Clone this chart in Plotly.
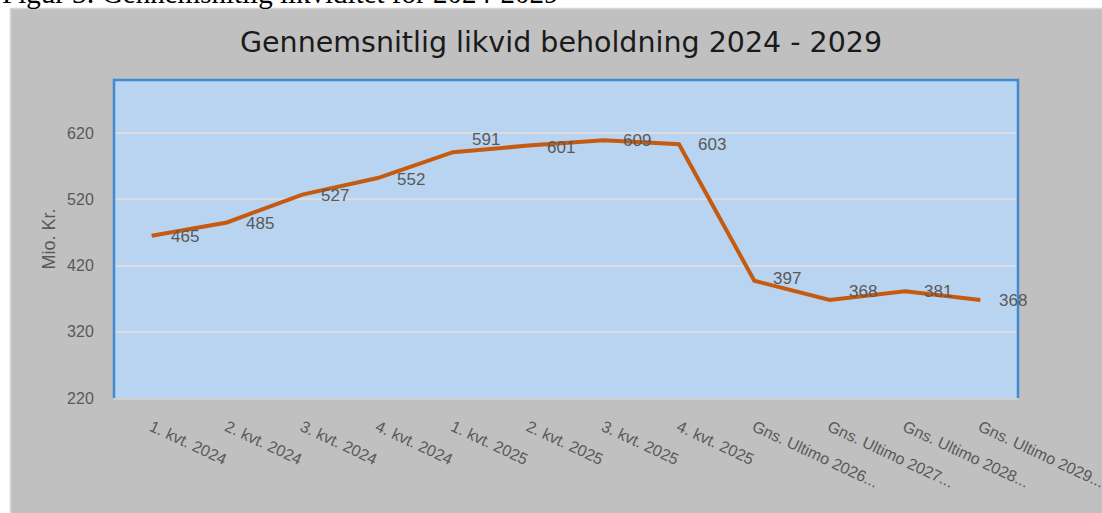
import plotly.graph_objects as go

categories = ["1. kvt. 2024", "2. kvt. 2024", "3. kvt. 2024", "4. kvt. 2024",
              "1. kvt. 2025", "2. kvt. 2025", "3. kvt. 2025", "4. kvt. 2025",
              "Gns. Ultimo 2026...", "Gns. Ultimo 2027...", "Gns. Ultimo 2028...",
              "Gns. Ultimo 2029..."]
values = [465, 485, 527, 552, 591, 601, 609, 603, 397, 368, 381, 368]
y_ticks = [220, 320, 420, 520, 620]
label_yshift = [-1, -1, -1, -1, 13, -2, 0, 0, 2, 8, 0, -1]

W, H = 1102, 513
L, R, T, B = 114, 84, 80, 115
pw, ph = W - L - R, H - T - B

def px(xp):
    return (xp - L) / pw

def py(yp):
    return (H - B - yp) / ph

fig = go.Figure()
fig.add_trace(go.Scatter(
    x=list(range(len(categories))), y=values, mode="lines",
    line=dict(color="#c55a11", width=4), hoverinfo="skip", showlegend=False))

annotations = []
for i, (v, ys) in enumerate(zip(values, label_yshift)):
    annotations.append(dict(x=i, y=v, xref="x", yref="y", text=str(v), showarrow=False,
                            xshift=33, yshift=ys,
                            font=dict(family="Liberation Sans", size=17, color="#595959")))

annotations.append(dict(x=px(561), y=py(43), xref="paper", yref="paper",
                        text="Gennemsnitlig likvid beholdning 2024 - 2029", showarrow=False,
                        xanchor="center", yanchor="middle",
                        font=dict(family="DejaVu Sans", size=28.5, color="#1a1a1a")))
annotations.append(dict(x=px(0), y=py(-7.5), xref="paper", yref="paper",
                        text="Figur 3: Gennemsnitlig likviditet for 2024-2029", showarrow=False,
                        xanchor="left", yanchor="middle",
                        font=dict(family="Liberation Serif", size=29, color="#000000")))

shapes = [
    # white page strips outside the grey chart box
    dict(type="rect", xref="paper", yref="paper", x0=px(0), x1=px(10), y0=py(H), y1=py(0),
         fillcolor="white", line=dict(width=0), layer="below"),
    dict(type="rect", xref="paper", yref="paper", x0=px(0), x1=px(W), y0=py(8), y1=py(0),
         fillcolor="white", line=dict(width=0), layer="below"),
    dict(type="line", xref="paper", yref="paper", x0=px(10.5), x1=px(10.5), y0=py(H), y1=py(8),
         line=dict(color="#d6d6d6", width=1.5)),
    dict(type="line", xref="paper", yref="paper", x0=px(10), x1=px(W), y0=py(8.5), y1=py(8.5),
         line=dict(color="#d6d6d6", width=1.5)),
    # blue plot-area border (left, top, right)
    dict(type="path", xref="paper", yref="paper", path="M 0,0 L 0,1 L 1,1 L 1,0",
         line=dict(color="#3f8ad4", width=2.5)),
]

fig.update_layout(
    width=W, height=H,
    margin=dict(l=L, r=R, t=T, b=B, pad=0, autoexpand=False),
    paper_bgcolor="#c0c0c0",
    plot_bgcolor="#b9d4f0",
    showlegend=False,
    annotations=annotations,
    shapes=shapes,
    xaxis=dict(
        tickmode="array", tickvals=list(range(len(categories))), ticktext=categories,
        range=[-0.5, len(categories) - 0.5], tickangle=25,
        tickfont=dict(family="Liberation Sans", size=16, color="#595959"),
        ticklabeloverflow="allow", automargin=False,
        showgrid=False, zeroline=False,
        showline=True, linecolor="#d0d0d0", linewidth=1.5,
        ticks="outside", ticklen=12, tickcolor="rgba(0,0,0,0)",
    ),
    yaxis=dict(
        range=[220, 700], tickmode="array", tickvals=y_ticks, automargin=False,
        tickfont=dict(family="Liberation Sans", size=16, color="#595959"),
        showgrid=True, gridcolor="#d9dde3", gridwidth=1.5, zeroline=False,
        ticks="outside", ticklen=16, tickcolor="rgba(0,0,0,0)",
        title=dict(text="Mio. Kr.", standoff=6,
                   font=dict(family="Liberation Sans", size=18, color="#595959")),
    ),
)

fig.write_html("out.html", config={"displayModeBar": False},
               post_script="document.body.style.margin='0';document.body.style.overflow='hidden';")
